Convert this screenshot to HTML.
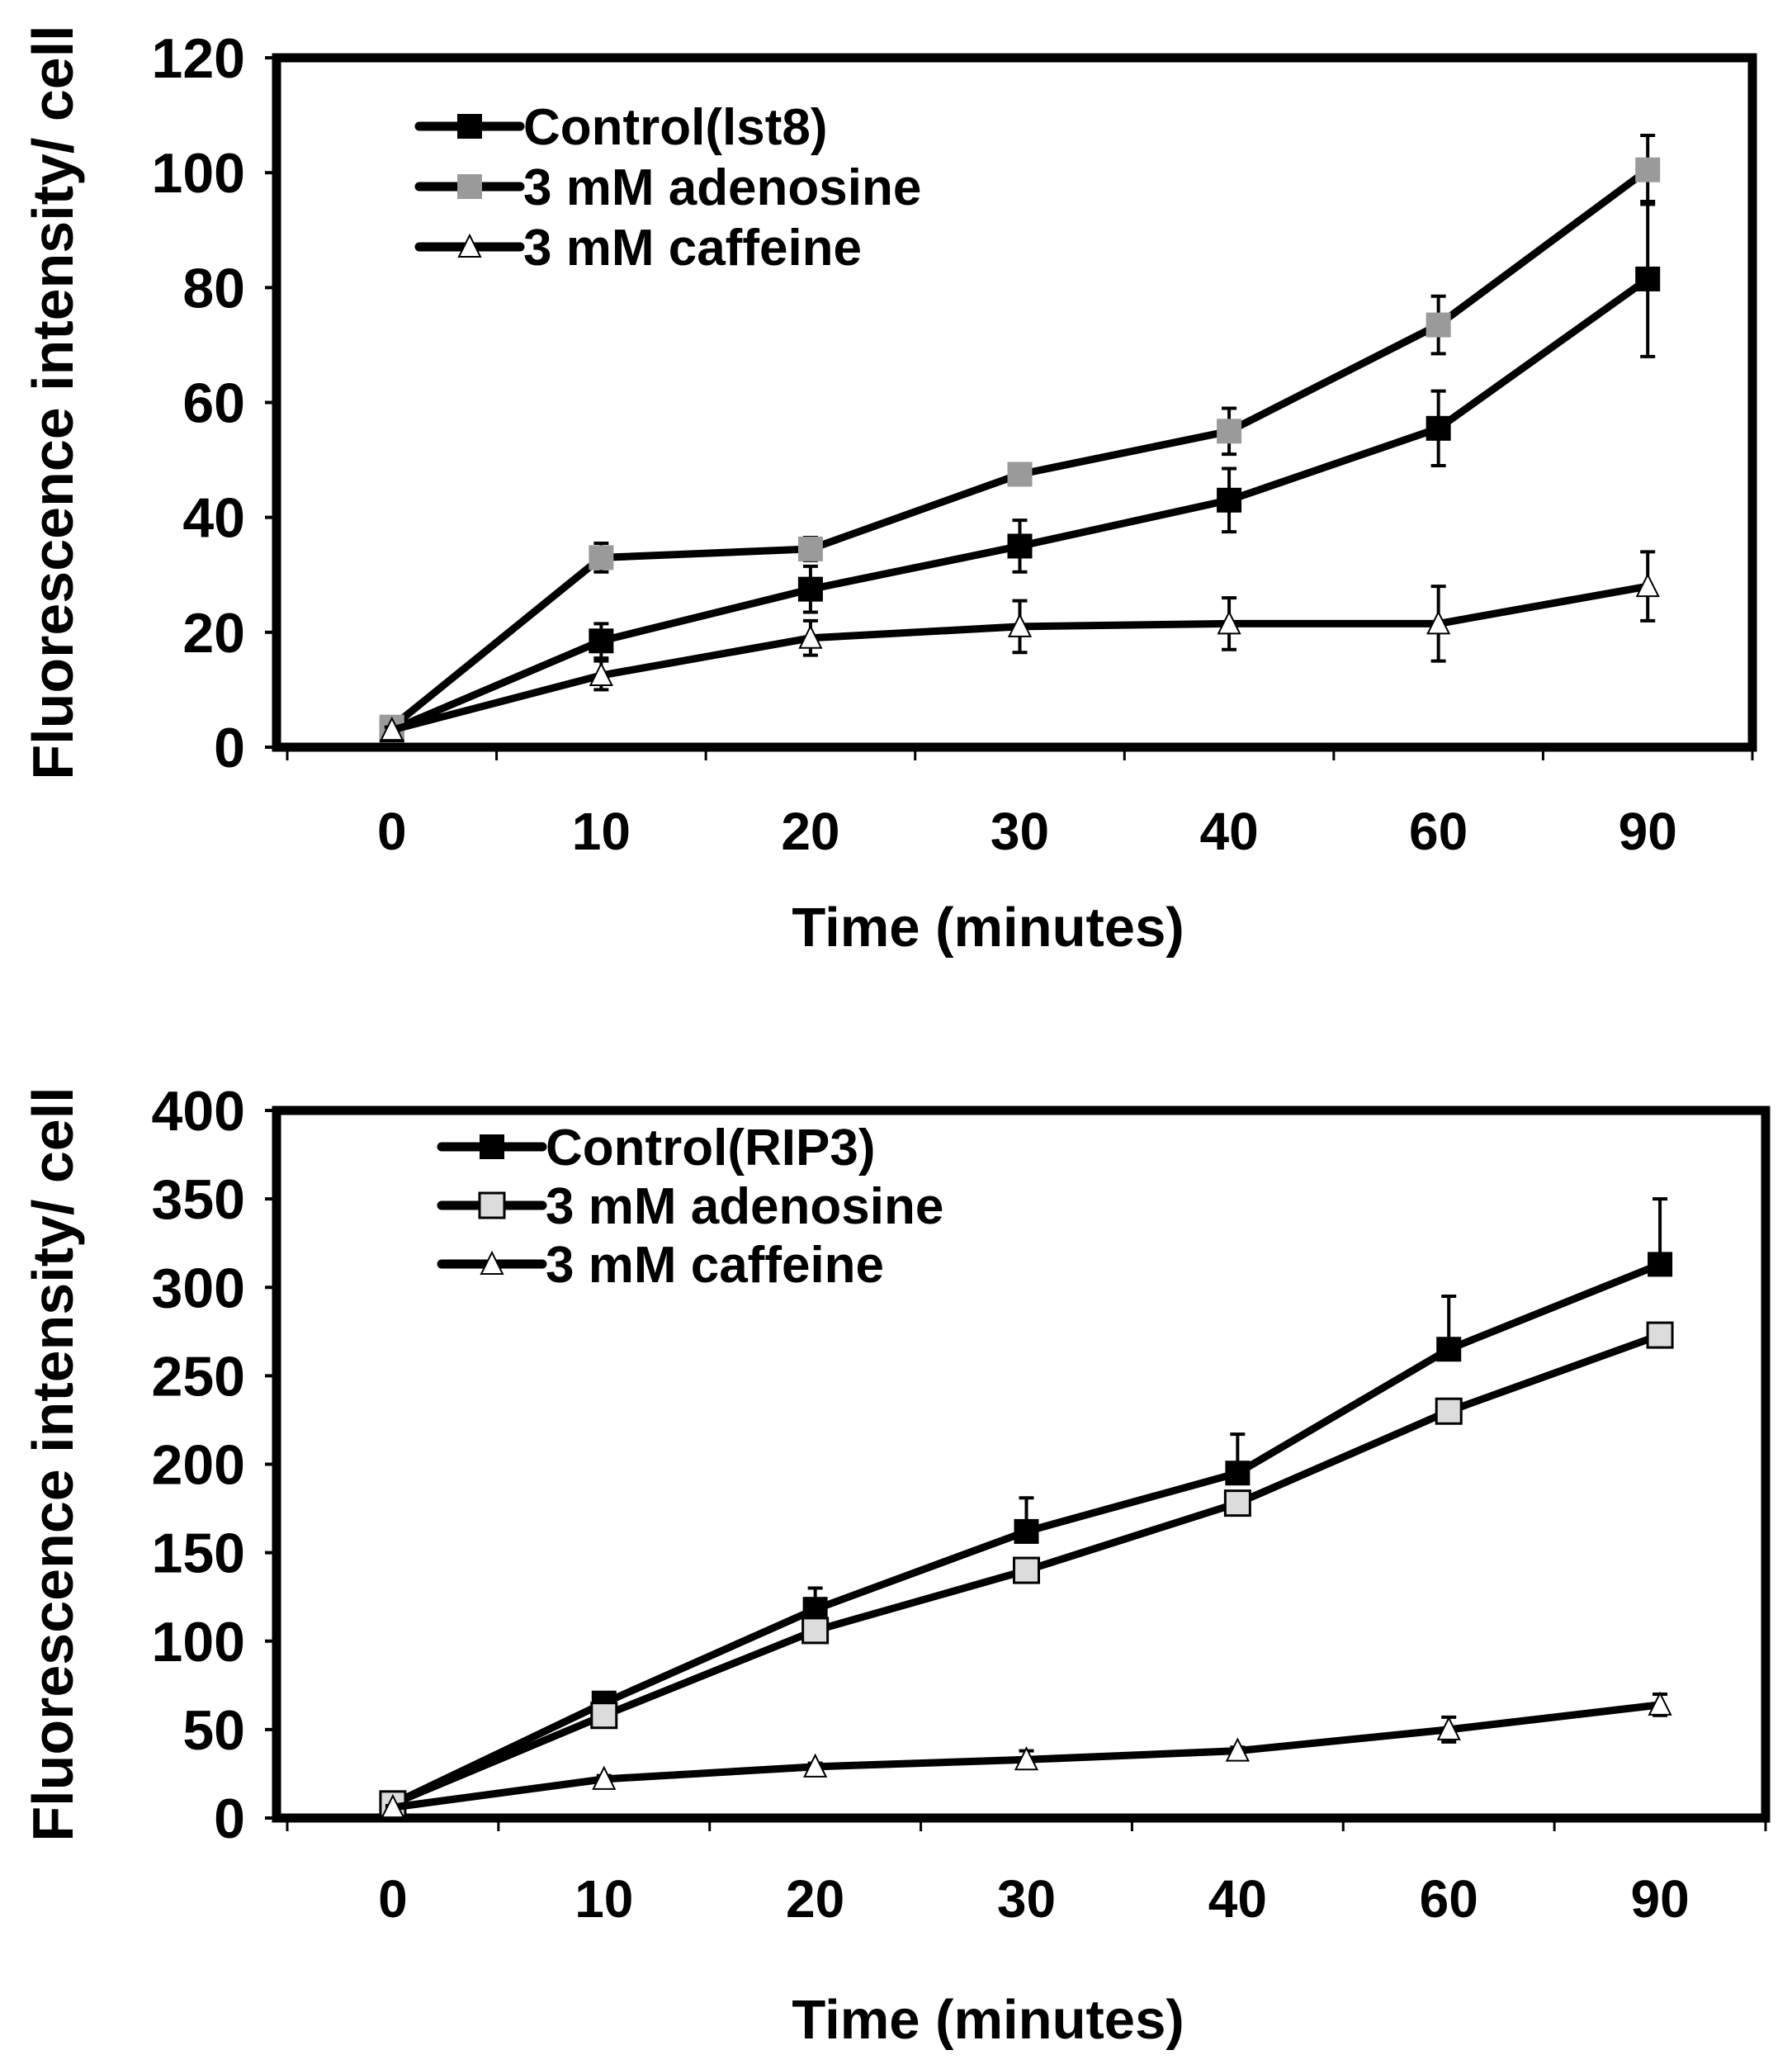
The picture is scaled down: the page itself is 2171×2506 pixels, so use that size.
<!DOCTYPE html>
<html><head><meta charset="utf-8"><style>
html,body{margin:0;padding:0;background:#fff;}
svg text{font-family:"Liberation Sans",sans-serif;font-weight:bold;fill:#000;}
</style></head><body>
<svg id="c" width="2171" height="2501" xmlns="http://www.w3.org/2000/svg"></svg>
<script>
const categories = ["0","10","20","30","40","60","90"];
const topControl = [3,18.5,27.5,35,43,55.5,81.5];
const topControlErr = [1,3,4,4.5,5.5,6.5,13.5];
const topAdenosine = [3.5,33,34.5,47.5,55,73.5,100.5];
const topAdenosineErr = [1,2.5,2,0.5,4,5,6];
const topCaffeine = [3,12.5,19,21,21.5,21.5,28];
const topCaffeineErr = [0.5,2.5,3,4.5,4.5,6.5,6];
const topTicks = [0,20,40,60,80,100,120];
const botControl = [8,65,118,162,195,265,313];
const botControlErr = [3,5,12,19,22,30,37];
const botAdenosine = [8,58,106,140,178,230,273];
const botAdenosineErr = [2,3,5,4,5,5,5];
const botCaffeine = [6,22,29,33,38,50,64];
const botCaffeineErr = [1,2,2,5,2,7,6];
const botTicks = [0,50,100,150,200,250,300,350,400];

const svg = document.getElementById('c');
const NS = 'http://www.w3.org/2000/svg';
function mk(tag, attrs, parent){const e=document.createElementNS(NS,tag);for(const k in attrs)e.setAttribute(k,attrs[k]);(parent||svg).appendChild(e);return e;}

function chart(cfg){
  const g = mk('g',{});
  
  
  const L=cfg.left,T=cfg.top,R=cfg.right,B=cfg.bottom,max=cfg.max;
  const y=v=>B-(v/max)*(B-T);
  const step=(R-L-13)/categories.length;
  const x=i=>L+13+step*(i+0.5);
  const fr = mk('rect',{x:L,y:T,width:R-L,height:B-T,fill:'none',stroke:'#000','stroke-width':11},g);
  
  
  cfg.ticks.forEach(t=>{
    const tx = mk('text',{x:L-38,y:y(t)+24,'text-anchor':'end','font-size':68},g);
    tx.textContent=t;
    
    
    mk('line',{x1:L-14,x2:L,y1:y(t),y2:y(t),stroke:'#000','stroke-width':4},g);
  });
  for(let i=0;i<=categories.length;i++){
    const xx=L+13+step*i;
    mk('line',{x1:xx,x2:xx,y1:B,y2:B+16,stroke:'#000','stroke-width':3},g);
  }
  categories.forEach((c,i)=>{
    const tx=mk('text',{x:x(i),y:cfg.xlabY+6,'text-anchor':'middle','font-size':64},g);
    tx.textContent=c;
    
    
  });
  const xt=mk('text',{x:1197,y:cfg.xtitleY+4,'text-anchor':'middle','font-size':67},g);
  xt.textContent='Time (minutes)';
  
  
  const yt=mk('text',{x:0,y:0,'text-anchor':'middle','font-size':70,transform:`translate(88,${(T+B)/2}) rotate(-90)`},g);
  yt.textContent='Fluorescence intensity/ cell';
  
  

  cfg.series.forEach(s=>{
    const sg=mk('g',{},g);
    
    
    s.vals.forEach((v,i)=>{
      const e=s.err[i];
      const lo = s.upOnly? v : v-e;
      mk('line',{x1:x(i),x2:x(i),y1:y(v+e),y2:y(lo),stroke:'#000','stroke-width':4},sg);
      mk('line',{x1:x(i)-9,x2:x(i)+9,y1:y(v+e),y2:y(v+e),stroke:'#000','stroke-width':4},sg);
      if(!s.upOnly) mk('line',{x1:x(i)-9,x2:x(i)+9,y1:y(lo),y2:y(lo),stroke:'#000','stroke-width':4},sg);
    });
    mk('polyline',{points:s.vals.map((v,i)=>x(i)+','+y(v)).join(' '),fill:'none',stroke:'#000','stroke-width':9,'stroke-linejoin':'round'},sg);
    s.vals.forEach((v,i)=>marker(sg,s,x(i),y(v)));
  });
  cfg.series.forEach((s,j)=>{
    const ly=cfg.legY+j*cfg.legStep;
    const lg=mk('g',{},g);
    
    
    mk('line',{x1:cfg.legX,x2:cfg.legX+122,y1:ly,y2:ly,stroke:'#000','stroke-width':11,'stroke-linecap':'round'},lg);
    marker(lg,s,cfg.legX+61,ly);
    const t=mk('text',{x:cfg.legX+126,y:ly+22,'font-size':62},lg);
    t.textContent=s.label;
  });
}
function marker(p,s,cx,cy){
  if(s.m==='sq'){mk('rect',{x:cx-15,y:cy-15,width:30,height:30,fill:s.fill,stroke:s.stroke,'stroke-width':s.stroke==='none'?0:3},p);}
  else {mk('path',{d:`M${cx},${cy-14} L${cx+13},${cy+12} L${cx-13},${cy+12} Z`,fill:'#fff',stroke:'#000','stroke-width':2},p);}
}
chart({name:'top-chart',left:335,top:70,right:2123,bottom:905,max:120,ticks:topTicks,xlabY:1023,xtitleY:1142,legX:508,legY:153,legStep:73,
  series:[
    {name:'series-control-lst8',label:'Control(lst8)',vals:topControl,err:topControlErr,m:'sq',fill:'#000',stroke:'none'},
    {name:'series-adenosine',label:'3 mM adenosine',vals:topAdenosine,err:topAdenosineErr,m:'sq',fill:'#9a9a9a',stroke:'none'},
    {name:'series-caffeine',label:'3 mM caffeine',vals:topCaffeine,err:topCaffeineErr,m:'tri'}]});
chart({name:'bottom-chart',left:335,top:1345,right:2139,bottom:2202,max:400,ticks:botTicks,xlabY:2316,xtitleY:2465,legX:535,legY:1389,legStep:71,
  series:[
    {name:'series-control-rip3',label:'Control(RIP3)',vals:botControl,err:botControlErr,m:'sq',fill:'#000',stroke:'none',upOnly:true},
    {name:'series-adenosine',label:'3 mM adenosine',vals:botAdenosine,err:botAdenosineErr,m:'sq',fill:'#dcdcdc',stroke:'#000'},
    {name:'series-caffeine',label:'3 mM caffeine',vals:botCaffeine,err:botCaffeineErr,m:'tri'}]});
</script>
</body></html>
